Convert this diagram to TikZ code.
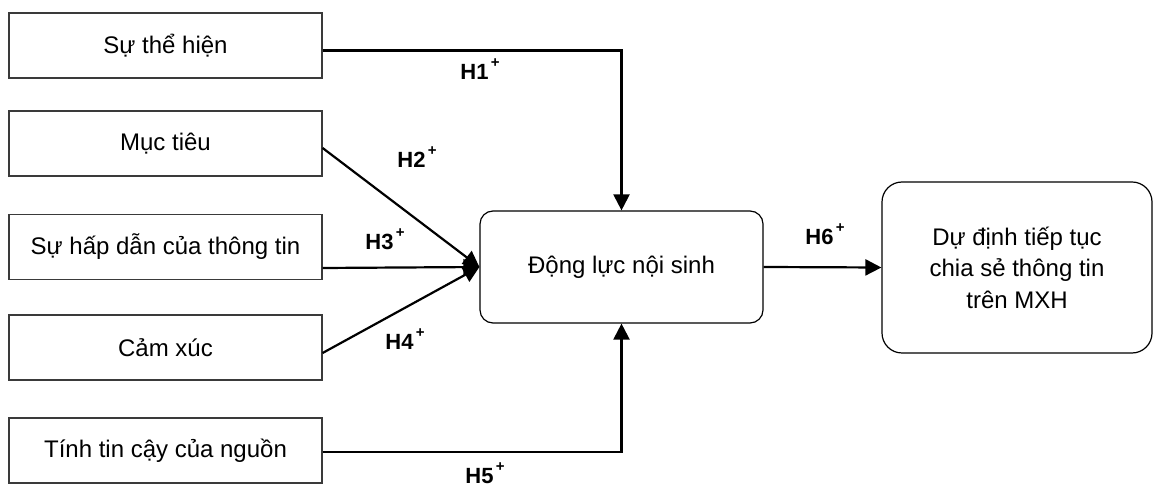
\documentclass[tikz,border=0pt]{standalone}
\usepackage{fontspec}
\setmainfont{Liberation Sans}
\usepackage{xcolor}
\usepackage{tikz}
\usetikzlibrary{arrows.meta}
\definecolor{mdledge}{HTML}{3A3A3A}
\definecolor{mdlink}{HTML}{000000}
\newcommand{\hypo}[1]{H#1\kern1.2pt\raisebox{6pt}{\fontsize{7.5}{8}\selectfont +}}

\begin{document}
\begin{tikzpicture}[x=0.5pt, y=-0.5pt,
    factor/.style={draw=mdledge, line width=0.6pt, rectangle, minimum width=156.5pt,
      minimum height=32.5pt, font=\fontsize{12}{15.5}\selectfont},
    core/.style={draw=mdlink, line width=0.6pt, rounded corners=6.5pt, minimum width=141.5pt,
      minimum height=56pt, font=\fontsize{12}{15.5}\selectfont},
    goal/.style={draw=mdlink, line width=0.6pt, rounded corners=10pt, minimum width=135pt,
      minimum height=85.5pt, align=center, font=\fontsize{12}{15.75}\selectfont},
    link/.style={mdlink, line width=1.1pt, -{Triangle[length=8pt, width=8pt]}},
    hlabel/.style={anchor=base west, inner sep=0pt, font=\bfseries\fontsize{11}{12}\selectfont}]
  \useasboundingbox (0,0) rectangle (1154,485);

  % Factors
  \node[factor] (tuthehien) at (165.5,45.5) {Sự thể hiện};
  \node[factor] (muctieu) at (165.5,143.5) {Mục tiêu};
  \node[factor] (hapdan) at (165.5,247) {Sự hấp dẫn của thông tin};
  \node[factor] (camxuc) at (165.5,347.5) {Cảm xúc};
  \node[factor] (tincay) at (165.5,450.5) {Tính tin cậy của nguồn};

  % Motivation and intention
  \node[core] (dongluc) at (621.5,267) {Động lực nội sinh};
  \node[goal] (dudinh) at (1017,267.5) {Dự định tiếp tục\\chia sẻ thông tin\\trên MXH};

  % Paths
  \draw[link] ([yshift=-2.5pt]tuthehien.east) -| (dongluc.north);
  \draw[link] ([yshift=-2.25pt]muctieu.east) -- (dongluc.west);
  \draw[link] ([yshift=-10.5pt]hapdan.east) -- (dongluc.west);
  \draw[link] ([yshift=-2.75pt]camxuc.east) -- (dongluc.west);
  \draw[link] ([yshift=-0.75pt]tincay.east) -| (dongluc.south);
  \draw[link] (dongluc.east) -- (dudinh.west);

  % Hypotheses
  \node[hlabel] (h1) at (460,80) {\hypo{1}};
  \node[hlabel] (h2) at (397,168) {\hypo{2}};
  \node[hlabel] (h3) at (365,250) {\hypo{3}};
  \node[hlabel] (h4) at (385,350) {\hypo{4}};
  \node[hlabel] (h5) at (465,483) {\hypo{5}};
  \node[hlabel] (h6) at (805,245) {\hypo{6}};
\end{tikzpicture}
\end{document}
